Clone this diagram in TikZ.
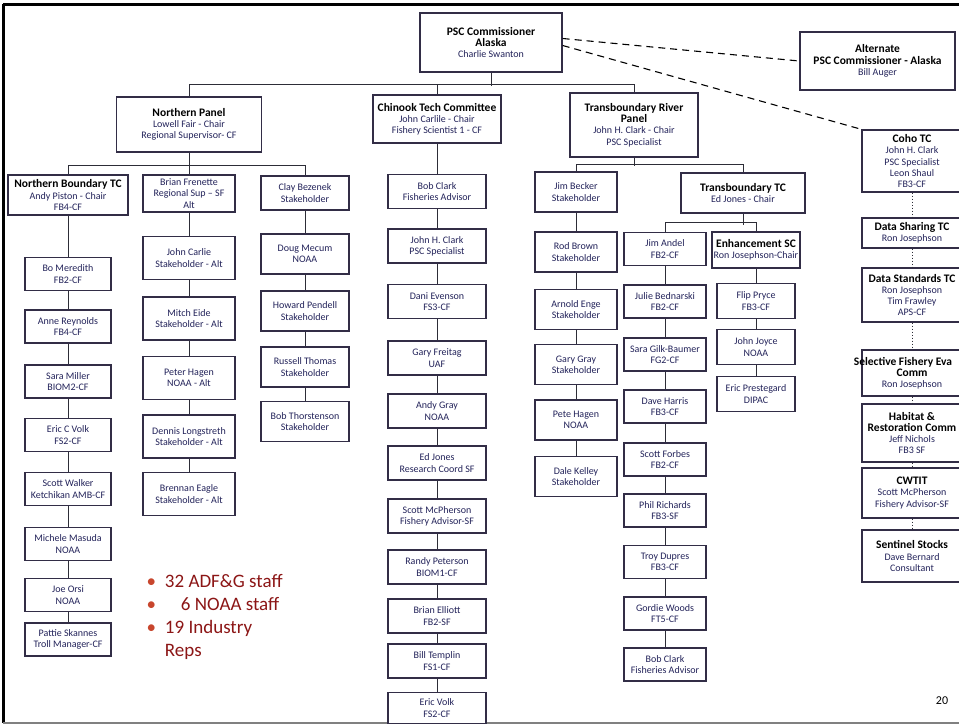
\documentclass[tikz,border=0pt]{standalone}
\usepackage{fontspec}
\setmainfont{Carlito}
\usetikzlibrary{positioning}
\definecolor{boxc}{RGB}{50,45,70}
\definecolor{namec}{RGB}{35,35,90}
\definecolor{linec}{RGB}{45,45,55}
\definecolor{listc}{RGB}{140,22,22}
\definecolor{dotc}{RGB}{200,70,45}
\newcommand{\boxhead}[1]{\textcolor{black}{\bfseries\fontsize{11.5}{13}\selectfont #1}}
\tikzset{
  org/.style={draw=boxc, line width=1.4pt, fill=white, align=center, inner sep=1pt,
    text=namec, font=\fontsize{10}{11.2}\selectfont},
  col1/.style={org, minimum width=86pt, minimum height=33pt},
  col2/.style={org, minimum width=92pt, minimum height=43pt},
  col3/.style={org, minimum width=88pt, minimum height=40pt},
  colck/.style={org, minimum width=98pt, minimum height=34pt},
  coltr/.style={org, minimum width=82pt, minimum height=40pt},
  colja/.style={org, minimum width=82pt, minimum height=33pt},
  colen/.style={org, minimum width=78pt, minimum height=35pt},
  colco/.style={org, minimum width=100pt},
  link/.style={draw=linec, line width=1pt},
  dashlink/.style={draw=black, line width=1.1pt, dash pattern=on 7pt off 5pt},
  dotlink/.style={draw=linec, line width=1pt, dotted},
}

\begin{document}
\begin{tikzpicture}[x=1pt,y=-1pt]
\useasboundingbox (0,0) rectangle (959,726);
\clip (0,0) rectangle (959,726);
\fill[white] (0,0) rectangle (959,726);

% slide frame
\draw[line width=3pt] (3,4) -- (962,4);
\draw[line width=3pt] (3,4) -- (3,723);
\draw[line width=1.5pt, gray] (3,723) -- (962,723);

% commissioners
\node[org, minimum width=142pt, minimum height=59pt] (psc) at (491,42.5)
  {\boxhead{PSC Commissioner}\\ \boxhead{Alaska}\\ Charlie Swanton};
\node[org, minimum width=155pt, minimum height=58pt] (alt) at (877.5,61)
  {\boxhead{Alternate}\\ \boxhead{PSC Commissioner - Alaska}\\ Bill Auger};

% panels
\node[org, minimum width=145pt, minimum height=55pt] (np) at (189,124.5)
  {\boxhead{Northern Panel}\\ Lowell Fair - Chair\\ Regional Supervisor- CF};
\node[org, minimum width=128pt, minimum height=48pt] (ctc) at (437,119)
  {\boxhead{Chinook Tech Committee}\\ John Carlile - Chair\\ Fishery Scientist 1 - CF};
\node[org, minimum width=128pt, minimum height=64pt] (trp) at (634,125)
  {\boxhead{Transboundary River}\\ \boxhead{Panel}\\ John H. Clark - Chair\\ PSC Specialist};

% northern boundary TC
\node[org, minimum width=120pt, minimum height=40pt] (nbtc) at (68,195)
  {\boxhead{Northern Boundary TC}\\ Andy Piston - Chair\\ FB4-CF};
\node[col1] (bo) at (68,274) {Bo Meredith\\ FB2-CF};
\node[col1] (anne) at (68,326.5) {Anne Reynolds\\ FB4-CF};
\node[col1] (sara) at (68,381.5) {Sara Miller\\ BIOM2-CF};
\node[col1] (ecv) at (68,435) {Eric C Volk\\ FS2-CF};
\node[col1] (walker) at (68,489) {Scott Walker\\ Ketchikan AMB-CF};
\node[col1] (masuda) at (68,544) {Michele Masuda\\ NOAA};
\node[col1] (orsi) at (68,595) {Joe Orsi\\ NOAA};
\node[col1] (skannes) at (68,639.5) {Pattie Skannes\\ Troll Manager-CF};

% alternates
\node[col2, minimum height=37pt] (bf) at (189,193.5) {Brian Frenette\\ Regional Sup -- SF\\ Alt};
\node[col2] (carlie) at (189,258) {John Carlie\\ Stakeholder - Alt};
\node[col2] (eide) at (189,318.5) {Mitch Eide\\ Stakeholder - Alt};
\node[col2] (phagen) at (189,378) {Peter Hagen\\ NOAA - Alt};
\node[col2] (longs) at (189,436.5) {Dennis Longstreth\\ Stakeholder - Alt};
\node[col2] (eagle) at (189,494) {Brennan Eagle\\ Stakeholder - Alt};

% stakeholders
\node[col3, minimum height=34pt] (clay) at (305,193) {Clay Bezenek\\ Stakeholder};
\node[col3] (mecum) at (305,254) {Doug Mecum\\ NOAA};
\node[col3] (pendell) at (305,311) {Howard Pendell\\ Stakeholder};
\node[col3] (thomas) at (305,367) {Russell Thomas\\ Stakeholder};
\node[col3] (thors) at (305,421.5) {Bob Thorstenson\\ Stakeholder};

% chinook TC members
\node[colck] (bclark) at (437,191.5) {Bob Clark\\ Fisheries Advisor};
\node[colck] (jhclark) at (437,246) {John H. Clark\\ PSC Specialist};
\node[colck] (evenson) at (437,301.5) {Dani Evenson\\ FS3-CF};
\node[colck] (freitag) at (437,358) {Gary Freitag\\ UAF};
\node[colck] (agray) at (437,411) {Andy Gray\\ NOAA};
\node[colck] (ejones) at (437,463) {Ed Jones\\ Research Coord SF};
\node[colck] (mcph) at (437,516) {Scott McPherson\\ Fishery Advisor-SF};
\node[colck] (peterson) at (437,567) {Randy Peterson\\ BIOM1-CF};
\node[colck] (elliott) at (437,616) {Brian Elliott\\ FB2-SF};
\node[colck] (templin) at (437,661) {Bill Templin\\ FS1-CF};
\node[colck, minimum height=31pt] (evolk) at (437,708) {Eric Volk\\ FS2-CF};

% transboundary stakeholders
\node[coltr] (becker) at (576,192) {Jim Becker\\ Stakeholder};
\node[coltr] (rbrown) at (576,252) {Rod Brown\\ Stakeholder};
\node[coltr] (enge) at (576,309.5) {Arnold Enge\\ Stakeholder};
\node[coltr] (ggray) at (576,364.5) {Gary Gray\\ Stakeholder};
\node[coltr] (pthagen) at (576,420) {Pete Hagen\\ NOAA};
\node[coltr] (kelley) at (576,476.5) {Dale Kelley\\ Stakeholder};

% transboundary TC
\node[org, minimum width=124pt, minimum height=40pt] (tbtc) at (743,193)
  {\boxhead{Transboundary TC}\\ Ed Jones - Chair};
\node[colja] (andel) at (665,249) {Jim Andel\\ FB2-CF};
\node[colja] (bednar) at (665,301.5) {Julie Bednarski\\ FB2-CF};
\node[colja] (gilk) at (665,354.5) {Sara Gilk-Baumer\\ FG2-CF};
\node[colja] (harris) at (665,406.5) {Dave Harris\\ FB3-CF};
\node[colja] (forbes) at (665,459.5) {Scott Forbes\\ FB2-CF};
\node[colja] (richards) at (665,510.5) {Phil Richards\\ FB3-SF};
\node[colja] (dupres) at (665,562) {Troy Dupres\\ FB3-CF};
\node[colja] (woods) at (665,613.5) {Gordie Woods\\ FT5-CF};
\node[colja] (tbclark) at (665,664.5) {Bob Clark\\ Fisheries Advisor};
\node[org, minimum width=88pt, minimum height=36pt] (enh) at (756,250)
  {\boxhead{Enhancement SC}\\ Ron Josephson-Chair};
\node[colen] (pryce) at (756,301) {Flip Pryce\\ FB3-CF};
\node[colen] (joyce) at (756,347) {John Joyce\\ NOAA};
\node[colen] (preste) at (756,394) {Eric Prestegard\\ DIPAC};

% other committees
\node[colco, minimum height=62pt] (coho) at (912,161)
  {\boxhead{Coho TC}\\ John H. Clark\\ PSC Specialist\\ Leon Shaul\\ FB3-CF};
\node[colco, minimum height=30pt] (dsh) at (912,233) {\boxhead{Data Sharing TC}\\ Ron Josephson};
\node[colco, minimum height=54pt] (dst) at (912,295)
  {\boxhead{Data Standards TC}\\ Ron Josephson\\ Tim Frawley\\ APS-CF};
\node[colco, minimum height=46pt] (sel) at (912,373)
  {\makebox[0pt]{\hspace*{-18pt}\boxhead{Selective Fishery Eva}}\\ \boxhead{Comm}\\ Ron Josephson};
\node[colco, minimum height=58pt] (hab) at (912,433)
  {\boxhead{Habitat \&}\\ \makebox[0pt]{\boxhead{Restoration Comm}}\\ Jeff Nichols\\ FB3 SF};
\node[colco, minimum height=50pt] (cwtit) at (912,493)
  {\boxhead{CWTIT}\\ Scott McPherson\\ Fishery Advisor-SF};
\node[colco, minimum height=52pt] (sent) at (912,556)
  {\boxhead{Sentinel Stocks}\\ Dave Bernard\\ Consultant};

% tree lines
\draw[link] (psc.south) -- ++(0,13);
\draw[link] (np.north) -- ++(0,-12) -| (trp.north);
\draw[link] (ctc.north) -- ++(0,-10);
\draw[link] (np.south) -- ++(0,14);
\draw[link] (nbtc.north) -- ++(0,-9) -| (clay.north);
\draw[link] (bf.north) -- (np.south);
\draw[link] (trp.south) -- ++(0,8);
\draw[link] (becker.north) -- ++(0,-7) -| (tbtc.north);
\draw[link] (tbtc.south) -- ++(0,11);
\draw[link] (andel.north) -- ++(0,-9) -| (enh.north);
\draw[link] (nbtc) -- (bo) (bo) -- (anne) (anne) -- (sara) (sara) -- (ecv)
  (ecv) -- (walker) (walker) -- (masuda) (masuda) -- (orsi) (orsi) -- (skannes);
\draw[link] (bf) -- (carlie) (carlie) -- (eide) (eide) -- (phagen)
  (phagen) -- (longs) (longs) -- (eagle);
\draw[link] (clay) -- (mecum) (mecum) -- (pendell) (pendell) -- (thomas)
  (thomas) -- (thors);
\draw[link] (ctc) -- (bclark) (bclark) -- (jhclark) (jhclark) -- (evenson)
  (evenson) -- (freitag) (freitag) -- (agray) (agray) -- (ejones)
  (ejones) -- (mcph) (mcph) -- (peterson) (peterson) -- (elliott)
  (elliott) -- (templin) (templin) -- (evolk);
\draw[link] (becker) -- (rbrown) (rbrown) -- (enge) (enge) -- (ggray)
  (ggray) -- (pthagen) (pthagen) -- (kelley);
\draw[link] (andel) -- (bednar) (bednar) -- (gilk) (gilk) -- (harris)
  (harris) -- (forbes) (forbes) -- (richards) (richards) -- (dupres)
  (dupres) -- (woods) (woods) -- (tbclark);
\draw[link] (enh) -- (pryce) (pryce) -- (joyce) (joyce) -- (preste);
\draw[dotlink] (coho) -- (dsh) (dsh) -- (dst) (dst) -- (sel)
  (sel) -- (hab) (hab) -- (cwtit) (cwtit) -- (sent);

% dashed reporting lines
\draw[dashlink] ([yshift=4pt]psc.east) -- (alt.west);
\draw[dashlink] ([yshift=-3pt]psc.east) -- (coho.north west);

% staff summary
\node[anchor=north west, text=listc, align=left, font=\fontsize{19}{23}\selectfont] (staff) at (143,571)
  {\textcolor{dotc}{•}\hspace{9pt}32 ADF\&G staff\\
   \textcolor{dotc}{•}\hspace{9pt}\hspace{16pt}6 NOAA staff\\
   \textcolor{dotc}{•}\hspace{9pt}19 Industry\\
   \phantom{•}\hspace{9pt}Reps};
\node[font=\fontsize{12}{14}\selectfont] (pg) at (942,701) {20};
\end{tikzpicture}
\end{document}
